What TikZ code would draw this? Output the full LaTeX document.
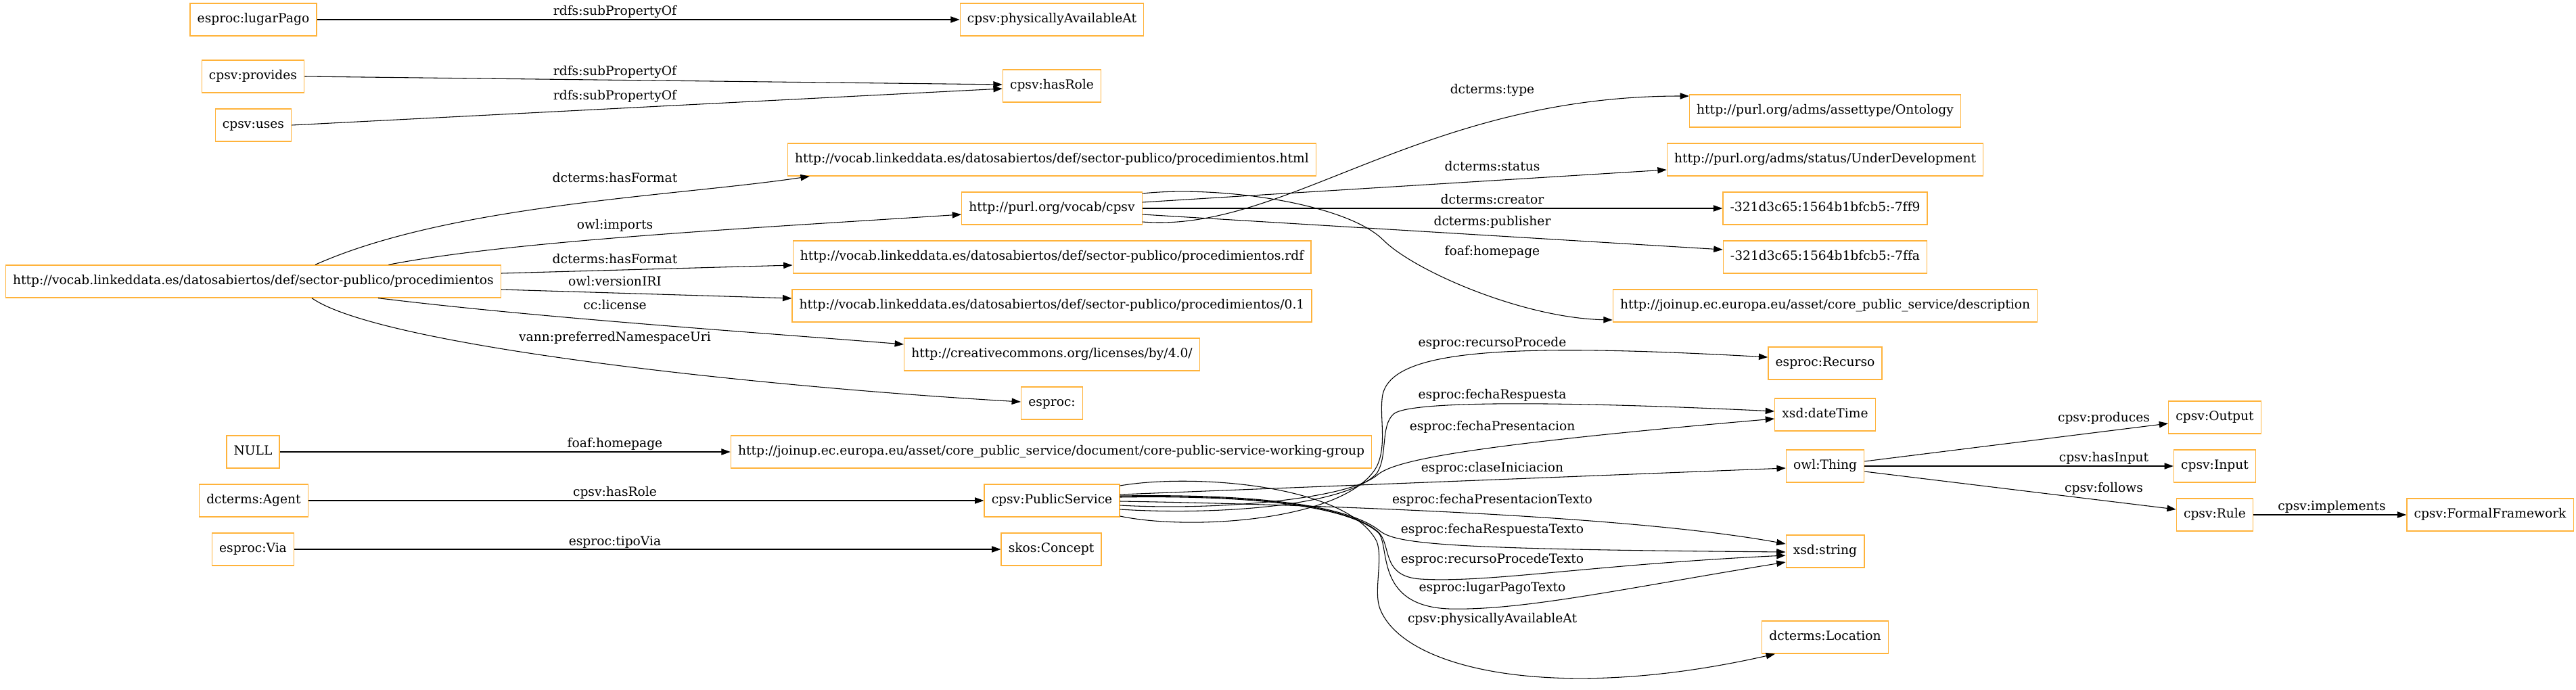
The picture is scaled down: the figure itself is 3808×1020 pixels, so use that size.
\documentclass[tikz,border=0pt]{standalone}
\usepackage{fontspec}
\setmainfont{DejaVu Serif}[Ligatures=CommonOff]
\usetikzlibrary{arrows.meta,calc}
\definecolor{gorange}{HTML}{FFB33B}
\tikzset{
  gbox/.style={draw=gorange, line width=1pt, rectangle, minimum height=36pt, inner xsep=8pt, inner ysep=0pt, text height=10pt, text depth=3pt, font=\fontsize{14}{16}\selectfont},
  lbl/.style={inner sep=0pt, text height=10pt, text depth=3pt, font=\fontsize{14}{16}\selectfont},
  conn/.style={draw=black, line width=0.8pt, -{Triangle[length=10pt,width=7pt]}},
}
\begin{document}
\begin{tikzpicture}[x=0.75pt,y=-0.75pt]
\useasboundingbox (0,0) rectangle (3808,1020);
% column 1
\node[gbox] (lugar) at (374.5,29) {esproc:lugarPago};
\node[gbox] (provides) at (374,113) {cpsv:provides};
\node[gbox] (uses) at (374.5,185) {cpsv:uses};
\node[gbox] (main) at (374.5,416) {http://vocab.linkeddata.es/datosabiertos/def/sector-publico/procedimientos};
\node[gbox] (null) at (374,668) {NULL};
\node[gbox] (agent) at (375,740) {dcterms:Agent};
\node[gbox] (via) at (374,812) {esproc:Via};
% column 2
\node[gbox] (phys) at (1555,29) {cpsv:physicallyAvailableAt};
\node[gbox] (hasrole) at (1555,127) {cpsv:hasRole};
\node[gbox] (html) at (1555,236) {http://vocab.linkeddata.es/datosabiertos/def/sector-publico/procedimientos.html};
\node[gbox] (cpsv) at (1555,308) {http://purl.org/vocab/cpsv};
\node[gbox] (rdf) at (1555,380) {http://vocab.linkeddata.es/datosabiertos/def/sector-publico/procedimientos.rdf};
\node[gbox] (ver) at (1555,452) {http://vocab.linkeddata.es/datosabiertos/def/sector-publico/procedimientos/0.1};
\node[gbox] (cc) at (1555,524) {http://creativecommons.org/licenses/by/4.0/};
\node[gbox] (esproc) at (1555,596) {esproc:};
\node[gbox] (wg) at (1554,668) {http://joinup.ec.europa.eu/asset/core\_public\_service/document/core-public-service-working-group};
\node[gbox] (ps) at (1555,740) {cpsv:PublicService};
\node[gbox] (skos) at (1554,812) {skos:Concept};
% column 3
\node[gbox] (onto) at (2698,164) {http://purl.org/adms/assettype/Ontology};
\node[gbox] (underdev) at (2698,236) {http://purl.org/adms/status/UnderDevelopment};
\node[gbox] (ff9) at (2698,308) {-321d3c65:1564b1bfcb5:-7ff9};
\node[gbox] (ffa) at (2698,380) {-321d3c65:1564b1bfcb5:-7ffa};
\node[gbox] (desc) at (2698,452) {http://joinup.ec.europa.eu/asset/core\_public\_service/description};
\node[gbox] (recurso) at (2698,537) {esproc:Recurso};
\node[gbox] (datetime) at (2698,613) {xsd:dateTime};
\node[gbox] (thing) at (2698,689) {owl:Thing};
\node[gbox] (string) at (2698,815) {xsd:string};
\node[gbox] (location) at (2698,942) {dcterms:Location};
% column 4 and 5
\node[gbox] (output) at (3274,617) {cpsv:Output};
\node[gbox] (input) at (3274,689) {cpsv:Input};
\node[gbox] (rule) at (3274,761) {cpsv:Rule};
\node[gbox] (ff) at (3681,761) {cpsv:FormalFramework};

% edges column 1 -> 2
\draw[conn] (lugar) -- (phys);
\draw[conn] (provides.east) -- ($(hasrole.west)+(0,-2)$);
\draw[conn] (uses.east) -- ($(hasrole.west)+(0,4)$);
\draw[conn] ($(main.north)+(91.5,0)$) .. controls (666,302) and (1000,290) .. ($(html.south west)+(33,0)$);
\draw[conn] ($(main.north)+(200,0)$) .. controls (760,355) and (1150,335) .. ($(cpsv.west)+(0,9)$);
\draw[conn] ($(main.east)+(0,-12)$) -- ($(rdf.west)+(0,12)$);
\draw[conn] ($(main.east)+(0,12)$) -- ($(ver.west)+(0,-11)$);
\draw[conn] ($(main.south)+(184.5,0)$) .. controls (800,470) and (1100,490) .. ($(cc.west)+(0,-15)$);
\draw[conn] ($(main.south)+(86.5,0)$) .. controls (560,510) and (1100,570) .. ($(esproc.west)+(0,-2)$);
\draw[conn] (null) -- (wg);
\draw[conn] (agent) -- (ps);
\draw[conn] (via) -- (skos);

% edges from cpsv
\draw[conn] ($(cpsv.east)+(0,20)$) .. controls (1900,345) and (2100,142) .. ($(onto.west)+(0,-22)$);
\draw[conn] ($(cpsv.east)+(0,-9)$) -- ($(underdev.west)+(0,15)$);
\draw[conn] (cpsv) -- (ff9);
\draw[conn] ($(cpsv.east)+(0,9)$) -- ($(ffa.west)+(0,-11)$);
\draw[conn] ($(cpsv.east)+(0,-22)$) .. controls (1800,274) and (1990,300) .. (2045,355) .. controls (2090,400) and (2250,470) .. ($(desc.west)+(0,21)$);

% edges from PublicService
\draw[conn] ($(ps.east)+(0,23)$) .. controls (1760,785) and (1990,770) .. (2035,690) .. controls (2050,660) and (2040,620) .. (2043,590) .. controls (2048,520) and (2200,505) .. ($(recurso.west)+(0,-9)$);
\draw[conn] ($(ps.east)+(0,13)$) .. controls (1800,762) and (1990,748) .. (2035,700) .. controls (2052,675) and (2040,630) .. (2060,612) .. controls (2085,590) and (2350,595) .. ($(datetime.west)+(0,-5)$);
\draw[conn] ($(ps.east)+(0,7)$) .. controls (1800,755) and (1990,738) .. (2035,703) .. controls (2058,682) and (2150,660) .. ($(datetime.west)+(0,6)$);
\draw[conn] ($(ps.east)+(0,-9)$) -- ($(thing.west)+(0,3)$);
\draw[conn] ($(ps.east)+(0,1)$) .. controls (1900,745) and (2400,760) .. ($(string.west)+(0,-11)$);
\draw[conn] ($(ps.east)+(0,-7)$) .. controls (1850,730) and (1990,745) .. (2040,785) .. controls (2065,805) and (2150,812) .. ($(string.west)+(0,1)$);
\draw[conn] ($(ps.east)+(0,-6)$) .. controls (1850,731) and (1990,746) .. (2037,786) .. controls (2058,805) and (2040,852) .. (2100,856) .. controls (2200,862) and (2350,835) .. ($(string.west)+(0,6)$);
\draw[conn] ($(ps.east)+(0,-5)$) .. controls (1850,732) and (1990,747) .. (2037,787) .. controls (2056,805) and (2030,895) .. (2141,900) .. controls (2250,903) and (2400,870) .. ($(string.west)+(0,16)$);
\draw[conn] ($(ps.east)+(0,-22)$) .. controls (1760,700) and (1990,715) .. (2035,800) .. controls (2045,825) and (2030,875) .. (2040,900) .. controls (2075,990) and (2300,1040) .. ($(location.south west)+(20,0)$);

% edges from owl:Thing and Rule
\draw[conn] ($(thing.east)+(0,-7)$) -- ($(output.west)+(0,9)$);
\draw[conn] (thing) -- (input);
\draw[conn] ($(thing.east)+(0,8)$) -- ($(rule.west)+(0,-8)$);
\draw[conn] (rule) -- (ff);

% labels
\node[lbl] (l1) at (909,18) {rdfs:subPropertyOf};
\node[lbl] (l2) at (909,107) {rdfs:subPropertyOf};
\node[lbl] (l3) at (909,143) {rdfs:subPropertyOf};
\node[lbl] (l4) at (909,265) {dcterms:hasFormat};
\node[lbl] (l5) at (909,334) {owl:imports};
\node[lbl] (l6) at (909,385) {dcterms:hasFormat};
\node[lbl] (l7) at (909,418) {owl:versionIRI};
\node[lbl] (l8) at (909,453) {cc:license};
\node[lbl] (l9) at (909,500) {vann:preferredNamespaceUri};
\node[lbl] (l10) at (909,657) {foaf:homepage};
\node[lbl] (l11) at (909,729) {cpsv:hasRole};
\node[lbl] (l12) at (909,802) {esproc:tipoVia};
\node[lbl] (m1) at (2206,134) {dcterms:type};
\node[lbl] (m2) at (2206,248) {dcterms:status};
\node[lbl] (m3) at (2206,297) {dcterms:creator};
\node[lbl] (m4) at (2206,329) {dcterms:publisher};
\node[lbl] (m5) at (2206,373) {foaf:homepage};
\node[lbl] (m6) at (2206,508) {esproc:recursoProcede};
\node[lbl] (m7) at (2206,585) {esproc:fechaRespuesta};
\node[lbl] (m8) at (2206,632) {esproc:fechaPresentacion};
\node[lbl] (m9) at (2206,693) {esproc:claseIniciacion};
\node[lbl] (m10) at (2206,740) {esproc:fechaPresentacionTexto};
\node[lbl] (m11) at (2206,784) {esproc:fechaRespuestaTexto};
\node[lbl] (m12) at (2206,828) {esproc:recursoProcedeTexto};
\node[lbl] (m13) at (2206,870) {esproc:lugarPagoTexto};
\node[lbl] (m14) at (2206,916) {cpsv:physicallyAvailableAt};
\node[lbl] (n1) at (3110,619) {cpsv:produces};
\node[lbl] (n2) at (3110,678) {cpsv:hasInput};
\node[lbl] (n3) at (3110,723) {cpsv:follows};
\node[lbl] (n4) at (3447,750) {cpsv:implements};
\end{tikzpicture}
\end{document}
